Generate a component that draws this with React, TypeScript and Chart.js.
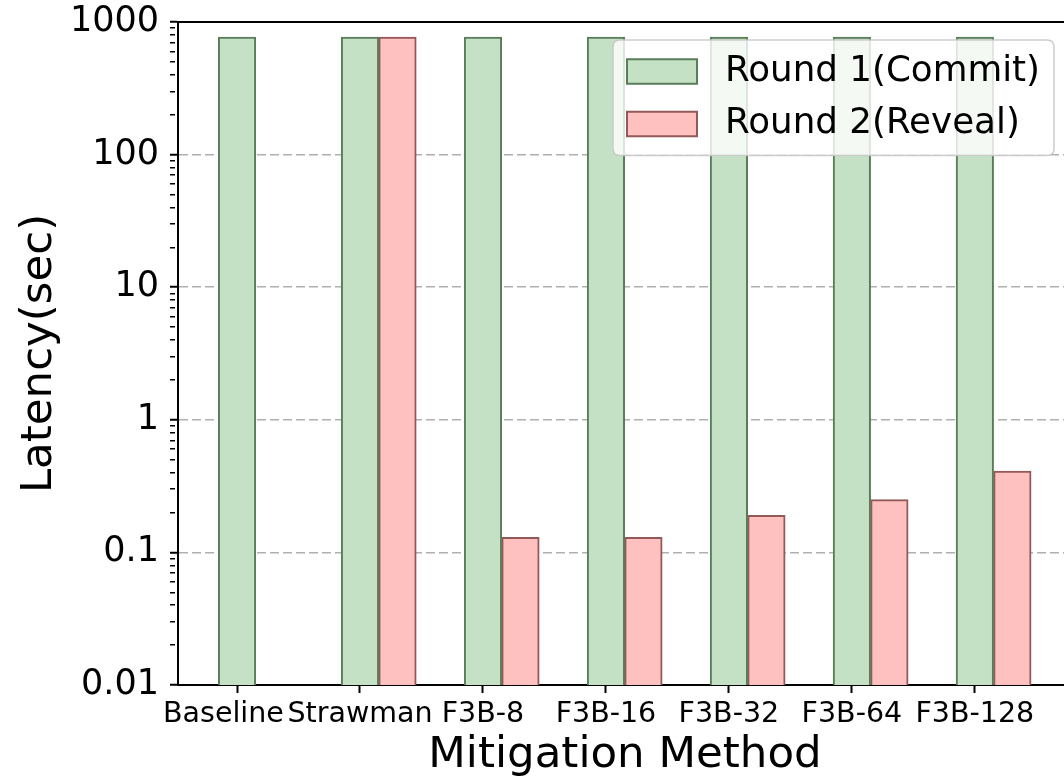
import React, { useEffect, useRef } from 'react';
import { Chart, registerables } from 'chart.js';

Chart.register(...registerables);

const categories = ['Baseline   ', 'Strawman', 'F3B-8', 'F3B-16', 'F3B-32', 'F3B-64', 'F3B-128'];
const round1Commit = [770, 770, 770, 770, 770, 770, 770];
const round2Reveal: (number | null)[] = [null, 770, 0.13, 0.13, 0.19, 0.25, 0.41];
const seriesLabels = ['Round 1(Commit)', 'Round 2(Reveal)'];
const yDecades = [-2, -1, 0, 1, 2, 3];
const xAxisTitle = 'Mitigation Method';
const yAxisTitle = 'Latency(sec)';

// bar width in category units; second series drawn one bar-width to the right
const BAR_WIDTH = 0.305;

const FONT = 'DejaVu Sans';
const GREEN_FILL = '#c5e1c5';
const GREEN_EDGE = '#587d58';
const RED_FILL = '#ffc0c0';
const RED_EDGE = '#935858';

const isDecade = (v: number) => {
  if (!(v > 0)) return false;
  const l = Math.log10(v);
  return Math.abs(l - Math.round(l)) < 1e-6;
};

const legendAndSpine = {
  id: 'legendAndSpine',
  afterDatasetsDraw(chart: any) {
    const { ctx, chartArea } = chart;
    ctx.save();
    // top spine
    ctx.strokeStyle = '#000';
    ctx.lineWidth = 2;
    ctx.beginPath();
    ctx.moveTo(chartArea.left, chartArea.top);
    ctx.lineTo(chartArea.right + 10, chartArea.top);
    ctx.stroke();

    // legend
    const fs = 35;
    const textFs = 35.7;
    ctx.font = `${textFs}px "${FONT}"`;
    const ds = chart.data.datasets;
    const maxText = Math.max(...ds.map((d: any) => ctx.measureText(d.label).width));
    const pad = 0.4 * fs;
    const handle = 2 * fs;
    const textPad = 0.8 * fs;
    const rowGap = 0.5 * fs;
    const boxW = pad + handle + textPad + maxText + pad;
    const boxH = pad * 2 + fs * ds.length + rowGap * (ds.length - 1);
    const right = chartArea.right - 18;
    const top = chartArea.top + 18;
    const left = right - boxW;
    const r = 7;
    ctx.beginPath();
    ctx.moveTo(left + r, top);
    ctx.lineTo(left + boxW - r, top);
    ctx.quadraticCurveTo(left + boxW, top, left + boxW, top + r);
    ctx.lineTo(left + boxW, top + boxH - r);
    ctx.quadraticCurveTo(left + boxW, top + boxH, left + boxW - r, top + boxH);
    ctx.lineTo(left + r, top + boxH);
    ctx.quadraticCurveTo(left, top + boxH, left, top + boxH - r);
    ctx.lineTo(left, top + r);
    ctx.quadraticCurveTo(left, top, left + r, top);
    ctx.closePath();
    ctx.fillStyle = 'rgba(255,255,255,0.8)';
    ctx.fill();
    ctx.strokeStyle = 'rgba(200,200,200,0.9)';
    ctx.lineWidth = 1.5;
    ctx.stroke();

    ds.forEach((d: any, i: number) => {
      const cy = top + pad + fs / 2 + i * (fs + rowGap);
      const sh = 0.7 * fs;
      ctx.fillStyle = d.backgroundColor;
      ctx.fillRect(left + pad, cy - sh / 2, handle, sh);
      ctx.strokeStyle = d.borderColor;
      ctx.lineWidth = 2;
      ctx.strokeRect(left + pad, cy - sh / 2, handle, sh);
      ctx.fillStyle = '#000';
      ctx.textBaseline = 'middle';
      ctx.textAlign = 'left';
      ctx.fillText(d.label, left + pad + handle + textPad, cy);
    });
    ctx.restore();
  },
};

export default function App() {
  const ref = useRef<HTMLCanvasElement>(null);

  useEffect(() => {
    if (!ref.current) return;
    Chart.defaults.font.family = FONT;
    Chart.defaults.color = '#000';

    const chart = new Chart(ref.current, {
      type: 'bar',
      data: {
        datasets: [
          {
            label: seriesLabels[0],
            data: categories.map((_, i) => ({ x: i, y: round1Commit[i] })),
            backgroundColor: GREEN_FILL,
            borderColor: GREEN_EDGE,
            borderWidth: 2,
          },
          {
            label: seriesLabels[1],
            data: categories.map((_, i) => ({ x: i + BAR_WIDTH, y: round2Reveal[i] })),
            backgroundColor: RED_FILL,
            borderColor: RED_EDGE,
            borderWidth: 2,
          },
        ] as any,
      },
      options: {
        animation: false,
        responsive: false,
        maintainAspectRatio: false,
        grouped: false,
        barThickness: 37.5,
        layout: { padding: { top: 22, right: 8, bottom: 0, left: 0 } },
        plugins: {
          legend: { display: false },
          tooltip: { enabled: false },
        },
        scales: {
          x: {
            type: 'linear',
            offset: false,
            min: -0.48,
            max: 6.79,
            afterBuildTicks: (s: any) => {
              s.ticks = categories.map((_, i) => ({ value: i }));
            },
            afterFit: (s: any) => {
              s.height = 97;
              s.paddingLeft = 0;
              s.paddingRight = 0;
            },
            grid: {
              offset: false,
              drawOnChartArea: false,
              drawTicks: true,
              tickLength: 8,
              tickWidth: 2,
              tickColor: '#000',
              color: '#000',
            },
            border: { display: true, color: '#000', width: 2 },
            ticks: {
              autoSkip: false,
              maxRotation: 0,
              minRotation: 0,
              padding: 4,
              color: '#000',
              font: { size: 28.5 },
              callback: (v: any) => categories[Math.round(Number(v))] ?? '',
            },
            title: {
              display: true,
              text: xAxisTitle,
              color: '#000',
              font: { size: 43.5 },
              padding: { top: 0, bottom: 0 },
            },
          },
          y: {
            type: 'logarithmic',
            min: Math.pow(10, yDecades[0]),
            max: Math.pow(10, yDecades[yDecades.length - 1]),
            afterBuildTicks: (s: any) => {
              const t: any[] = [];
              for (let k = 0; k < yDecades.length - 1; k++) {
                for (let m = 1; m <= 9; m++) {
                  t.push({ value: Number((m * Math.pow(10, yDecades[k])).toPrecision(3)) });
                }
              }
              t.push({ value: Math.pow(10, yDecades[yDecades.length - 1]) });
              s.ticks = t;
            },
            afterFit: (s: any) => {
              s.width = 178;
              s.paddingTop = 0;
              s.paddingBottom = 0;
            },
            grid: {
              drawOnChartArea: true,
              drawTicks: true,
              tickLength: 8,
              lineWidth: 1.5,
              color: (c: any) => {
                const v = c.tick ? c.tick.value : 0;
                return isDecade(v) && v > 0.011 && v < 999 ? '#b0b0b0' : 'rgba(0,0,0,0)';
              },
              tickColor: '#000',
              tickWidth: (c: any) => (c.tick && isDecade(c.tick.value) ? 2 : 1.5),
              tickBorderDash: (c: any) => (c.tick && isDecade(c.tick.value) ? [] : [5, 100]),
            },
            border: { display: true, color: '#000', width: 2, dash: [9, 4] },
            ticks: {
              autoSkip: false,
              padding: 11,
              color: '#000',
              font: { size: 35 },
              callback: (v: any) => {
                const n = Number(v);
                return isDecade(n) ? String(Number(n.toPrecision(1))) : '';
              },
            },
            title: {
              display: true,
              text: yAxisTitle,
              color: '#000',
              font: { size: 43.5 },
              padding: { top: 14, bottom: 0 },
            },
          },
        },
      } as any,
      plugins: [legendAndSpine],
    });

    return () => chart.destroy();
  }, []);

  return (
    <div
      style={{
        position: 'fixed',
        left: 0,
        top: 0,
        width: 1064,
        height: 782,
        overflow: 'hidden',
        background: '#fff',
      }}
    >
      <canvas ref={ref} width={1080} height={782} style={{ display: 'block', width: 1080, height: 782 }} />
    </div>
  );
}
